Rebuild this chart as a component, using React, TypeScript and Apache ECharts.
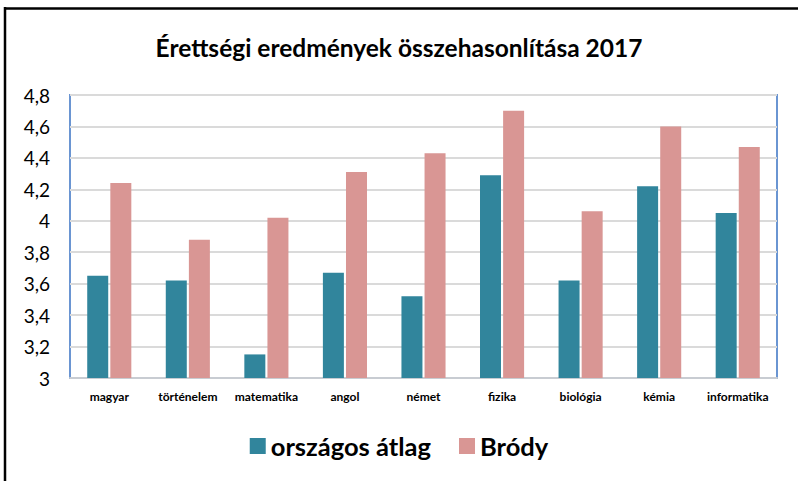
import React, { useEffect, useRef } from "react";
import * as echarts from "echarts";

const categories = ["magyar", "történelem", "matematika", "angol", "német", "fizika", "biológia", "kémia", "informatika"];
const orszagosAtlag = [3.65, 3.62, 3.15, 3.67, 3.52, 4.29, 3.62, 4.22, 4.05];
const brody = [4.24, 3.88, 4.02, 4.31, 4.43, 4.70, 4.06, 4.60, 4.47];
const seriesNames = ["országos átlag", "Bródy"];
const titleText = "Érettségi eredmények összehasonlítása 2017";

export default function App() {
  const ref = useRef<HTMLDivElement>(null);
  useEffect(() => {
    if (!ref.current) return;
    const chart = echarts.init(ref.current, null, { renderer: "svg" });
    const font = "Lato, 'Open Sans', sans-serif";
    chart.setOption({
      animation: false,
      backgroundColor: "#ffffff",
      title: {
        text: titleText,
        left: "center",
        top: 30,
        textStyle: { fontFamily: font, fontSize: 24.5, fontWeight: "bold", color: "#000" },
      },
      legend: {
        data: seriesNames,
        left: "center",
        top: 428,
        itemWidth: 16,
        itemHeight: 16,
        itemGap: 28,
        icon: "rect",
        textStyle: { fontFamily: font, fontSize: 25.5, fontWeight: "bold", color: "#000" },
      },
      grid: {
        left: 70,
        right: 21,
        top: 95,
        bottom: 103,
        show: true,
        borderColor: "#6A95D2",
        borderWidth: 2,
        backgroundColor: "transparent",
      },
      xAxis: {
        type: "category",
        data: categories,
        axisTick: { show: false },
        axisLine: { lineStyle: { color: "#C8CCD2", width: 2 } },
        axisLabel: { fontFamily: font, fontSize: 12, fontWeight: "bold", color: "#000", margin: 12, interval: 0 },
      },
      yAxis: {
        type: "value",
        min: 3,
        max: 4.8,
        interval: 0.2,
        axisLine: { show: false },
        axisTick: { show: false },
        splitLine: { lineStyle: { color: "#DADADA", width: 2 } },
        axisLabel: {
          fontFamily: font,
          fontSize: 19,
          color: "#000",
          margin: 20,
          formatter: (v: number) => String(Math.round(v * 10) / 10).replace(".", ","),
        },
      },
      series: [
        {
          name: seriesNames[0],
          type: "bar",
          data: orszagosAtlag,
          barWidth: 21,
          barGap: "10%",
          itemStyle: { color: "#31859C" },
        },
        {
          name: seriesNames[1],
          type: "bar",
          data: brody,
          barWidth: 21,
          itemStyle: { color: "#D99694" },
        },
      ],
      graphic: [
        { type: "line", shape: { x1: 4, y1: 8.5, x2: 798, y2: 8.5 }, style: { stroke: "#000", lineWidth: 2.5 } },
        { type: "line", shape: { x1: 5, y1: 7, x2: 5, y2: 481 }, style: { stroke: "#000", lineWidth: 2.5 } },
      ],
    });
    return () => chart.dispose();
  }, []);
  return <div ref={ref} style={{ width: 798, height: 481, position: "absolute", left: 0, top: 0 }} />;
}
